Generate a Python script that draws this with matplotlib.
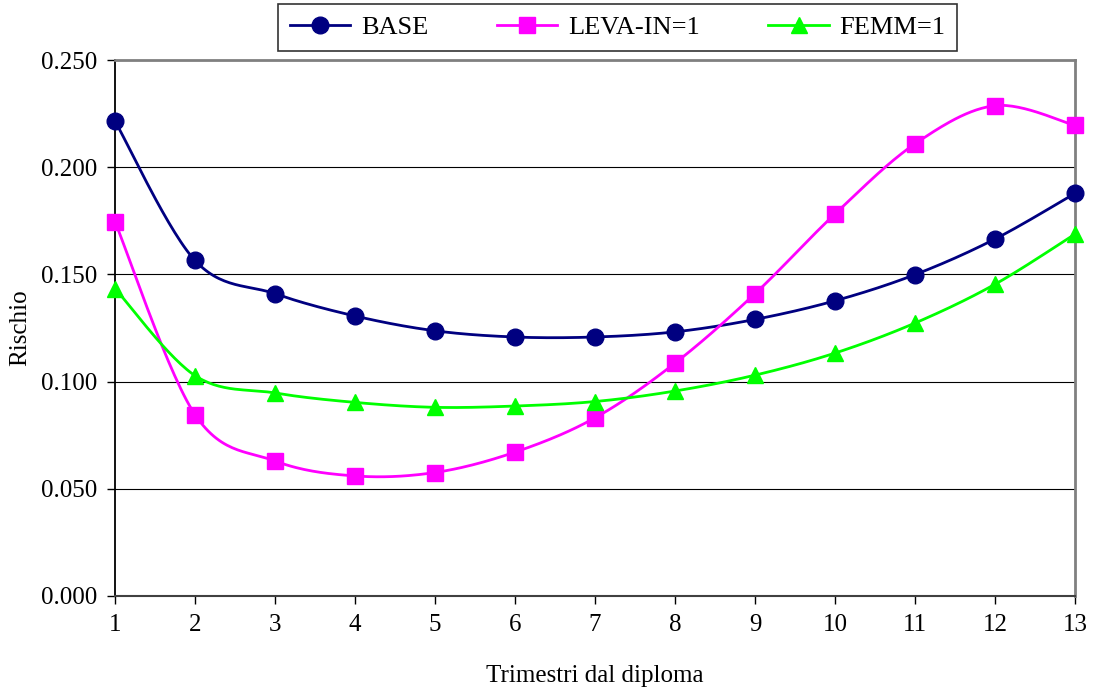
import numpy as np
import matplotlib
matplotlib.use("Agg")
import matplotlib.pyplot as plt

# quarters since graduation and estimated risk for each profile
trimestri = [1, 2, 3, 4, 5, 6, 7, 8, 9, 10, 11, 12, 13]
base = [0.2215, 0.1565, 0.1410, 0.1306, 0.1237, 0.1208, 0.1208, 0.1232, 0.1290, 0.1377, 0.1499, 0.1665, 0.1878]
leva_in = [0.1746, 0.0846, 0.0630, 0.0560, 0.0576, 0.0671, 0.0831, 0.1086, 0.1410, 0.1782, 0.2109, 0.2287, 0.2195]
femm = [0.1434, 0.1028, 0.0947, 0.0903, 0.0880, 0.0886, 0.0907, 0.0956, 0.1030, 0.1133, 0.1273, 0.1454, 0.1688]

labels = ["BASE", "LEVA-IN=1", "FEMM=1"]
colors = ["#000080", "#FF00FF", "#00FF00"]
markers = ["o", "s", "^"]

N_SEG = 30


def smooth(x, y, n=N_SEG):
    # cubic bezier through every point, tangents as in a catmull-rom spline
    p = np.column_stack([x, y]).astype(float)
    k = len(p)
    out = [p[0]]
    t = np.linspace(0, 1, n + 1)[1:]
    for i in range(k - 1):
        prev = p[i - 1] if i > 0 else p[i]
        nxt = p[i + 2] if i + 2 < k else p[i + 1]
        c1 = p[i] + (p[i + 1] - prev) / 6.0
        c2 = p[i + 1] - (nxt - p[i]) / 6.0
        seg = ((1 - t) ** 3)[:, None] * p[i] + (3 * (1 - t) ** 2 * t)[:, None] * c1 \
            + (3 * (1 - t) * t ** 2)[:, None] * c2 + (t ** 3)[:, None] * p[i + 1]
        out.extend(seg)
    out = np.array(out)
    return out[:, 0], out[:, 1]


plt.rcParams['font.family'] = ['Liberation Serif', 'DejaVu Serif']

fig = plt.figure(figsize=(10.97, 6.92), dpi=100)
ax = fig.add_axes([115 / 1097, 96 / 692, 960 / 1097, 536 / 692])

for serie, lab, col, mk in zip([base, leva_in, femm], labels, colors, markers):
    xs, ys = smooth(trimestri, serie)
    ax.plot(xs, ys, color=col, lw=2, marker=mk, markevery=N_SEG,
            markersize=12 if mk != "s" else 11, markerfacecolor=col,
            markeredgecolor=col, label=lab, clip_on=False, zorder=3)

ax.set_xlim(1, 13)
ax.set_ylim(0, 0.25)
ax.set_xticks(trimestri)
ax.set_yticks(np.arange(0, 0.2501, 0.05))
ax.yaxis.set_major_formatter(matplotlib.ticker.FormatStrFormatter('%.3f'))
ax.yaxis.grid(True, color='black', lw=0.8)
ax.set_axisbelow(True)

ax.tick_params(direction='out', length=6, width=1, labelsize=18, pad=7, colors='black')

for s in ['top', 'right']:
    ax.spines[s].set_color('#808080')
    ax.spines[s].set_linewidth(2)
ax.spines['left'].set_color('black')
ax.spines['left'].set_linewidth(1.3)
ax.spines['bottom'].set_color('#404040')
ax.spines['bottom'].set_linewidth(1.5)

ax.set_ylabel('Rischio', fontsize=18, va='center')
ax.yaxis.set_label_coords(-0.099, 0.5)
ax.set_xlabel('Trimestri dal diploma', fontsize=18, va='center')
ax.xaxis.set_label_coords(0.5, -0.149)

leg = fig.legend(loc='center', bbox_to_anchor=(617.5 / 1097, 1 - 27.5 / 692), ncol=3,
                 fontsize=19, frameon=True, fancybox=False, edgecolor='black',
                 handlelength=2.3, handletextpad=0.4, columnspacing=2.6,
                 borderpad=0.45, numpoints=1)
leg.get_frame().set_linewidth(1.2)

fig.savefig('out.png', dpi=100)
